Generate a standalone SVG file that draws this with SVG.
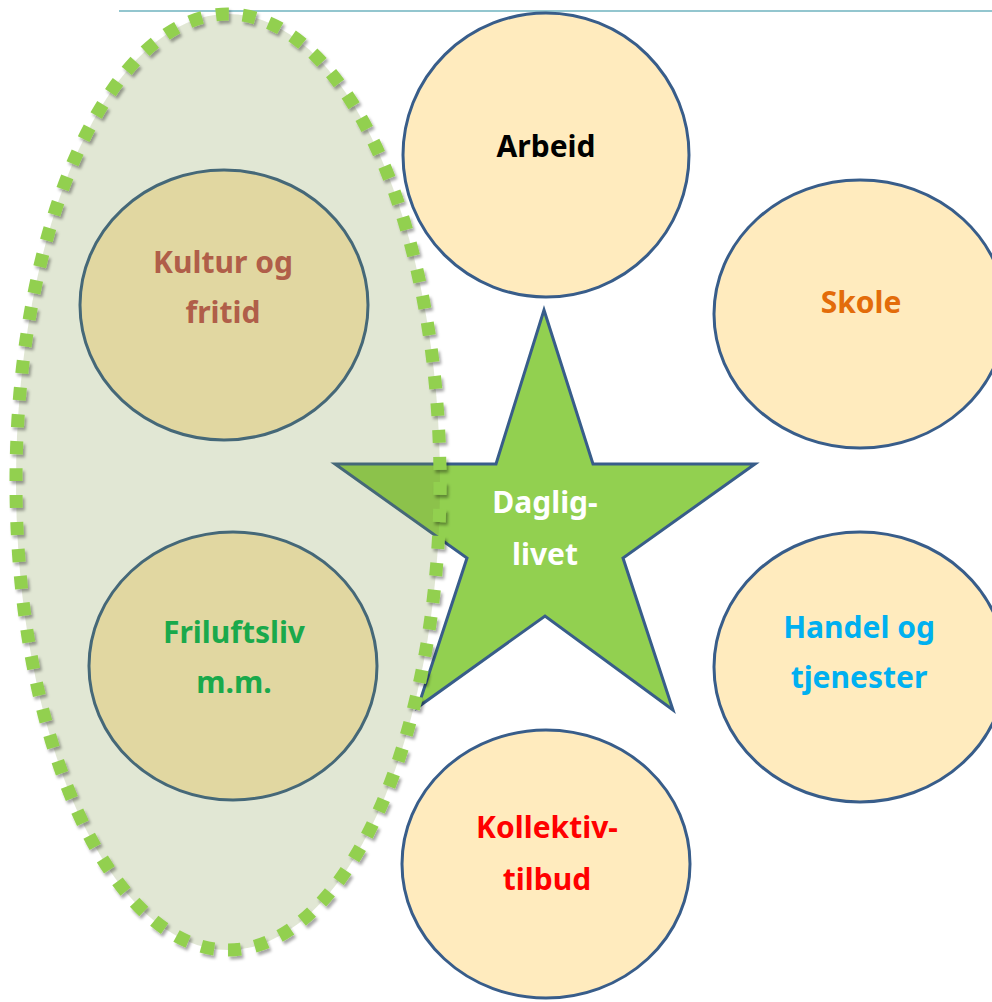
<svg xmlns="http://www.w3.org/2000/svg" width="992" height="1002" viewBox="0 0 992 1002">
<defs>
<style>
.c{fill:#ffebbe;stroke:#385d8a;stroke-width:3}
.t{font-family:"Noto Sans","Open Sans","Liberation Sans",sans-serif;font-weight:bold;font-size:30px;text-anchor:middle}
</style>
<filter id="sh" x="-10%" y="-10%" width="120%" height="120%">
<feDropShadow dx="2" dy="3" stdDeviation="1.8" flood-color="#000" flood-opacity="0.35"/>
</filter>
</defs>
<rect width="992" height="1002" fill="#fff"/>
<line x1="119" y1="11" x2="992" y2="11" stroke="#93c6cf" stroke-width="2"/>
<g id="arbeid">
<ellipse class="c" cx="546" cy="155" rx="143" ry="142"/>
<text class="t" x="546" y="157" fill="#000">Arbeid</text>
</g>
<g id="skole">
<ellipse class="c" cx="860" cy="314" rx="146" ry="134"/>
<text class="t" x="861" y="313" fill="#e36c0a">Skole</text>
</g>
<g id="handel">
<ellipse class="c" cx="860" cy="667" rx="146" ry="135"/>
<text class="t" x="859" y="638" fill="#00b0f0">Handel og</text>
<text class="t" x="859" y="688" fill="#00b0f0">tjenester</text>
</g>
<g id="kollektiv">
<ellipse class="c" cx="546" cy="864" rx="144" ry="134"/>
<text class="t" x="547" y="838" fill="#ff0000">Kollektiv-</text>
<text class="t" x="547" y="890" fill="#ff0000">tilbud</text>
</g>
<g id="kultur">
<ellipse class="c" cx="224" cy="305" rx="144" ry="135"/>
<text class="t" x="223" y="273" fill="#c0504d">Kultur og</text>
<text class="t" x="223" y="323" fill="#c0504d">fritid</text>
</g>
<g id="friluftsliv">
<ellipse class="c" cx="233" cy="666" rx="144" ry="134"/>
<text class="t" x="234" y="643" fill="#00b050">Friluftsliv</text>
<text class="t" x="234" y="693" fill="#00b050">m.m.</text>
</g>
<g id="dagliglivet">
<polygon points="544,310 593,464 755,464 623,558 673,710 545,616 418,707 467,558 335,464 496,464" fill="#92d050" stroke="#385d8a" stroke-width="3" stroke-linejoin="miter"/>
<text class="t" x="545" y="513" fill="#fff">Daglig-</text>
<text class="t" x="545" y="565" fill="#fff">livet</text>
</g>
<g id="fritid-gruppe">
<ellipse cx="228" cy="482" rx="212" ry="468" fill="#76923c" fill-opacity="0.22"/>
<ellipse cx="228" cy="482" rx="212" ry="468" fill="none" stroke="#92d050" stroke-width="13" stroke-dasharray="13 14" filter="url(#sh)"/>
</g>
<g id="connectors"/>
</svg>
